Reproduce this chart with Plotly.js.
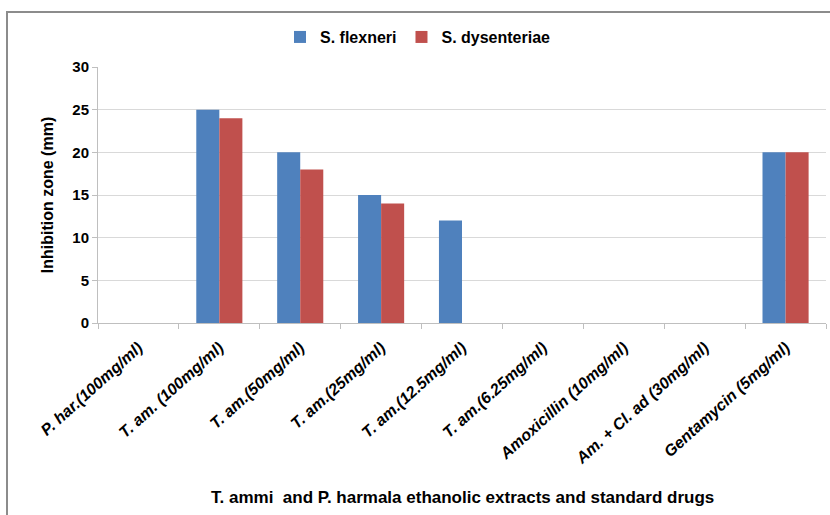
<!DOCTYPE html>
<html>
<head>
<meta charset="utf-8">
<script src="https://cdn.plot.ly/plotly-3.0.1.min.js"></script>
<style>html,body{margin:0;padding:0;background:#fff;}#chart{width:830px;height:515px;}</style>
</head>
<body>
<div id="chart"></div>
<script>
const categories = [
  "P. har.(100mg/ml)",
  "T. am. (100mg/ml)",
  "T. am.(50mg/ml)",
  "T. am.(25mg/ml)",
  "T. am.(12.5mg/ml)",
  "T. am.(6.25mg/ml)",
  "Amoxicillin (10mg/ml)",
  "Am. + Cl. ad (30mg/ml)",
  "Gentamycin (5mg/ml)"
];
const flexneri = [0, 25, 20, 15, 12, 0, 0, 0, 20];
const dysenteriae = [0, 24, 18, 14, 0, 0, 0, 0, 20];
const yTicks = [0, 5, 10, 15, 20, 25, 30];
const xTitle = "T. ammi&nbsp; and P. harmala ethanolic extracts and standard drugs";
const yTitle = "Inhibition zone (mm)";

const fontFam = "Liberation Sans, Arial, sans-serif";

const traces = [
  {type: "bar", name: "S. flexneri", x: categories, y: flexneri,
   marker: {color: "#4F81BD", line: {width: 0}}},
  {type: "bar", name: "S. dysenteriae", x: categories, y: dysenteriae,
   marker: {color: "#C0504D", line: {width: 0}}}
];

const layout = {
  width: 830, height: 515,
  margin: {l: 98, r: 4, t: 67, b: 192},
  paper_bgcolor: "#fff", plot_bgcolor: "#fff",
  font: {family: fontFam, color: "#000"},
  barmode: "group", bargap: 0.43, bargroupgap: 0,
  showlegend: true,
  legend: {orientation: "h", x: 0.25, xanchor: "left", y: 1.117, yanchor: "middle",
           font: {family: fontFam, size: 16, weight: "bold"}, itemwidth: 30, tracegroupgap: 0},
  xaxis: {
    type: "category",
    showline: true, linecolor: "#bfbfbf", linewidth: 1,
    ticks: "outside", tickson: "boundaries", ticklen: 5, tickcolor: "#bfbfbf",
    tickangle: -42, ticklabelstandoff: 8,
    tickfont: {family: fontFam, size: 16, weight: "bold", style: "italic"},
    showgrid: false
  },
  yaxis: {
    range: [0, 30], tickvals: yTicks, ticktext: yTicks.map(String),
    showline: true, linecolor: "#bfbfbf", linewidth: 1,
    ticks: "outside", ticklen: 5, tickcolor: "#bfbfbf",
    showgrid: true, gridcolor: "#d9d9d9", gridwidth: 1,
    zeroline: false,
    tickfont: {family: fontFam, size: 15, weight: "bold"},
    title: {text: yTitle, font: {family: fontFam, size: 16, weight: "bold"}, standoff: 14}
  },
  annotations: [
    {text: xTitle, xref: "paper", yref: "paper", x: 0.5, y: -0.68, xanchor: "center", yanchor: "middle",
     showarrow: false, font: {family: fontFam, size: 17, weight: "bold"}}
  ],
  shapes: [
    {type: "rect", xref: "paper", yref: "paper", x0: -0.125, x1: 1.2, y0: -1, y1: 1.2148,
     line: {color: "#8c8c8c", width: 2}, fillcolor: "rgba(0,0,0,0)", layer: "below"}
  ]
};

Plotly.newPlot("chart", traces, layout, {displayModeBar: false, staticPlot: true});
</script>
</body>
</html>
